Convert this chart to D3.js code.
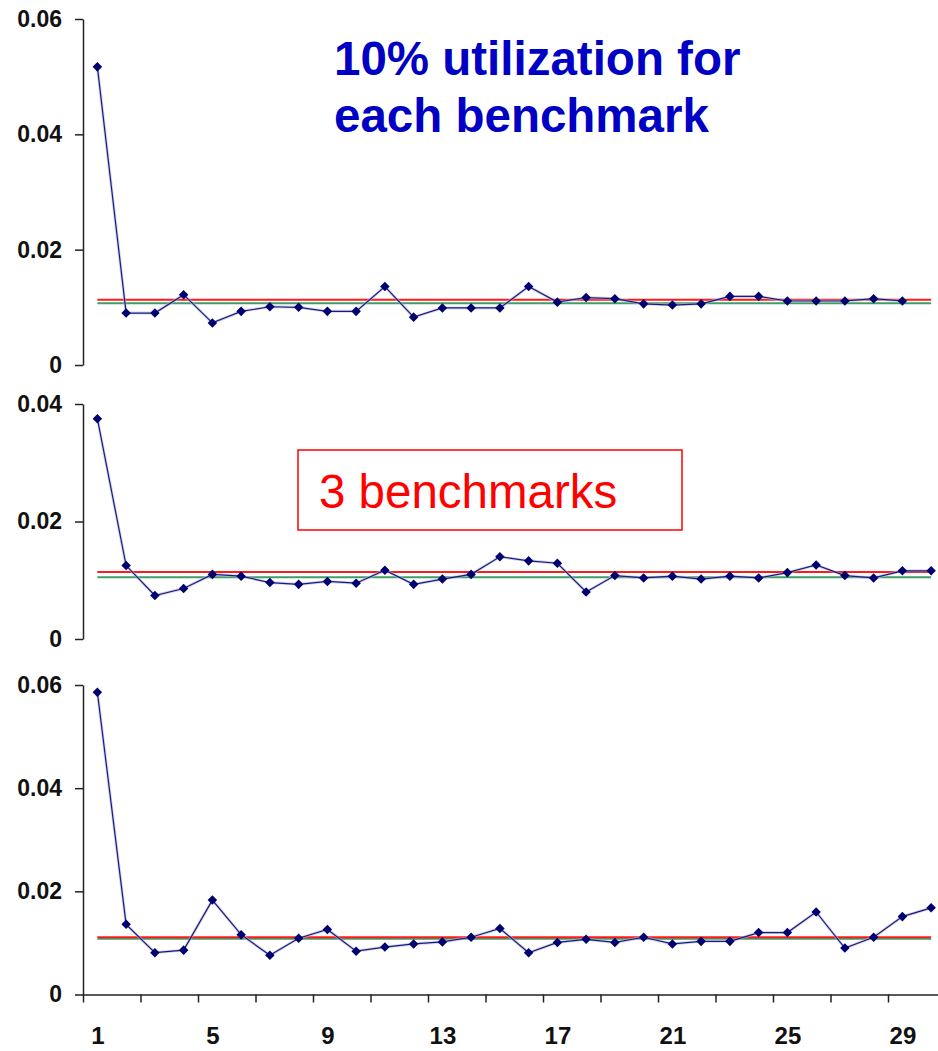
<!DOCTYPE html>
<html>
<head>
<meta charset="utf-8">
<script src="https://cdn.jsdelivr.net/npm/d3@7"></script>
<style>
  html, body { margin: 0; padding: 0; background: #fff; }
  svg { display: block; }
  text { font-family: "Liberation Sans", Arial, sans-serif; }
</style>
</head>
<body>
<svg id="chart" width="938" height="1051"></svg>
<script>
// ---- Data ----
const categories = d3.range(1, 31);               // 1..30
const xTickLabels = [1, 5, 9, 13, 17, 21, 25, 29];

const seriesTop = [0.0517, 0.0090, 0.0090, 0.0122, 0.0073, 0.0093, 0.0101, 0.0100, 0.0093, 0.0093,
                   0.0136, 0.0083, 0.0099, 0.0099, 0.0099, 0.0136, 0.0109, 0.0117, 0.0115, 0.0106,
                   0.0104, 0.0106, 0.0119, 0.0119, 0.0111, 0.0111, 0.0111, 0.0115, 0.0111];
const seriesMid = [0.0375, 0.0125, 0.0074, 0.0086, 0.0110, 0.0107, 0.0096, 0.0093, 0.0098, 0.0095,
                   0.0117, 0.0093, 0.0102, 0.0110, 0.0140, 0.0133, 0.0129, 0.0080, 0.0108, 0.0104,
                   0.0107, 0.0102, 0.0107, 0.0104, 0.0113, 0.0126, 0.0108, 0.0104, 0.0116, 0.0116];
const seriesBot = [0.0586, 0.0136, 0.0081, 0.0086, 0.0183, 0.0116, 0.0076, 0.0109, 0.0126, 0.0084,
                   0.0092, 0.0098, 0.0102, 0.0111, 0.0128, 0.0081, 0.0101, 0.0107, 0.0101, 0.0111,
                   0.0098, 0.0103, 0.0103, 0.0120, 0.0120, 0.0160, 0.0090, 0.0111, 0.0151, 0.0168];

const redRef   = [0.0113, 0.0114, 0.0111];
const greenRef = [0.0107, 0.0105, 0.0108];

const yMax   = [0.06, 0.04, 0.06];
const yTicks = [[0, 0.02, 0.04, 0.06], [0, 0.02, 0.04], [0, 0.02, 0.04, 0.06]];

const titleLines = ["10% utilization for", "each benchmark"];
const boxLabel = "3 benchmarks";

// ---- Layout ----
const svg = d3.select("#chart");
const axisX = 83;
const xLin = d3.scaleLinear().domain([0.5, 30.5]).range([axisX, 945.5]);

const panels = [
  { data: seriesTop, top: 19,  bottom: 365,   red: redRef[0], green: greenRef[0], max: yMax[0], ticks: yTicks[0] },
  { data: seriesMid, top: 404, bottom: 639,   red: redRef[1], green: greenRef[1], max: yMax[1], ticks: yTicks[1] },
  { data: seriesBot, top: 685, bottom: 994.5, red: redRef[2], green: greenRef[2], max: yMax[2], ticks: yTicks[2] }
];

const fmt = d => d === 0 ? "0" : d3.format(".2f")(d);

panels.forEach((p, pi) => {
  const y = d3.scaleLinear().domain([0, p.max]).range([p.bottom, p.top]);
  const g = svg.append("g");

  // y axis
  const ya = g.append("g")
    .attr("transform", `translate(${axisX},0)`)
    .call(d3.axisLeft(y).tickValues(p.ticks).tickFormat(fmt).tickSize(8).tickSizeOuter(0).tickPadding(13));
  ya.select(".domain").attr("stroke", "#222").attr("stroke-width", 1.5);
  ya.selectAll(".tick line").attr("stroke", "#222").attr("stroke-width", 1.5);
  ya.selectAll(".tick text")
    .attr("fill", "#111")
    .style("font-size", "23px")
    .style("font-weight", "bold")
    .style("font-family", "'Liberation Sans', Arial, sans-serif");

  // reference lines
  const refLine = v => d3.line()([[xLin(1), y(v)], [xLin(30), y(v)]]);
  g.append("path").attr("d", refLine(p.green)).attr("stroke", "#3f9e68").attr("stroke-width", 2).attr("fill", "none");
  g.append("path").attr("d", refLine(p.red)).attr("stroke", "#ff1a1a").attr("stroke-width", 2).attr("fill", "none");

  // series line
  const line = d3.line().x((d, i) => xLin(categories[i])).y(d => y(d));
  g.append("path").datum(p.data).attr("d", line)
    .attr("fill", "none").attr("stroke", "#b9b9d9").attr("stroke-width", 3).attr("opacity", 0.6);
  g.append("path").datum(p.data).attr("d", line)
    .attr("fill", "none").attr("stroke", "#1a1a80").attr("stroke-width", 1.2);

  // markers
  g.selectAll(".mk").data(p.data).enter().append("path")
    .attr("transform", (d, i) => `translate(${xLin(categories[i])},${y(d)})`)
    .attr("d", d3.symbol(d3.symbolDiamond2, 58))
    .attr("fill", "#000070");
});

// x axis on bottom panel
const xAxisY = panels[2].bottom;
const boundaries = d3.range(0.5, 31, 2);
const xa = svg.append("g").attr("transform", `translate(0,${xAxisY})`)
  .call(d3.axisBottom(xLin).tickValues(boundaries).tickFormat("").tickSize(8).tickSizeOuter(0));
xa.select(".domain").attr("stroke", "#222").attr("stroke-width", 1.5);
xa.selectAll(".tick line").attr("stroke", "#222").attr("stroke-width", 1.5);

const xl = svg.append("g").attr("transform", `translate(0,${xAxisY})`)
  .call(d3.axisBottom(xLin).tickValues(xTickLabels).tickFormat(d3.format("d")).tickSize(0).tickPadding(32));
xl.select(".domain").remove();
xl.selectAll(".tick text")
  .attr("fill", "#111")
  .style("font-size", "24px")
  .style("font-weight", "bold")
  .style("font-family", "'Liberation Sans', Arial, sans-serif");

// title
svg.append("text")
  .attr("x", 335).attr("y", 75)
  .attr("fill", "#0000c4")
  .style("font-size", "47.5px").style("font-weight", "bold")
  .selectAll("tspan").data(titleLines).enter().append("tspan")
  .attr("x", 334).attr("dy", (d, i) => i === 0 ? 0 : 57)
  .text(d => d);

// boxed label
svg.append("rect")
  .attr("x", 298).attr("y", 450).attr("width", 384).attr("height", 80)
  .attr("fill", "none").attr("stroke", "#ff0000").attr("stroke-width", 1.5);
svg.append("text")
  .attr("x", 319).attr("y", 508)
  .attr("fill", "#ff0000")
  .style("font-size", "47.5px")
  .text(boxLabel);
</script>
</body>
</html>
